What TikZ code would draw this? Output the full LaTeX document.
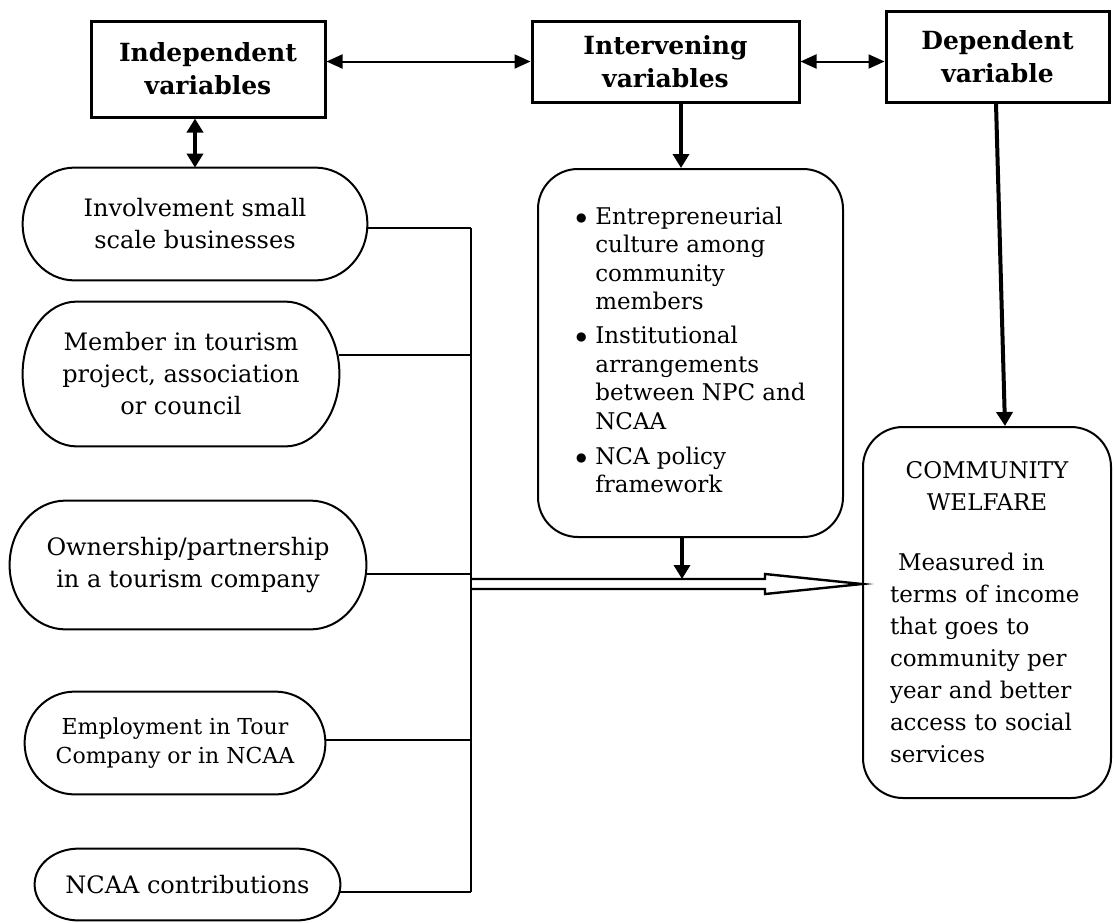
\documentclass[tikz,border=0pt]{standalone}
\usepackage{fontspec}
\setmainfont{DejaVu Serif}
\usetikzlibrary{arrows.meta,calc}
% outline of a pill shaped box round a node, #2 = half width of the curved ends
\newcommand\pill[2]{\draw[pillline] let \p1=(#1.north west),\p2=(#1.south east) in
  (\x1+#2,\y1) -- (\x2-#2,\y1) arc[start angle=90,end angle=-90,x radius=#2,y radius={(\y1-\y2)/2}]
  -- (\x1+#2,\y2) arc[start angle=270,end angle=90,x radius=#2,y radius={(\y1-\y2)/2}] -- cycle;}
\begin{document}
\begin{tikzpicture}[x=0.5pt,y=-0.5pt,
    headbox/.style={draw,line width=1.5pt,align=center,inner sep=0pt,font=\bfseries\fontsize{12.5}{16.5}\selectfont},
    pilltext/.style={align=center,inner sep=0pt,font=\fontsize{12}{16}\selectfont},
    roundbox/.style={draw,line width=1pt,rounded corners=20pt,inner sep=0pt},
    pillline/.style={line width=1pt},
    link/.style={line width=1.2pt},
    thinarrow/.style={line width=1pt,>={Triangle[length=8pt,width=7pt]},<->},
    thickarrow/.style={line width=2pt,>={Triangle[length=7pt,width=8pt]},->},
    hollow/.style={line width=1.2pt,line join=miter}]
    \useasboundingbox(0,0)rectangle(1114,922);
    % the three headings
    \node[headbox,minimum width=117pt,minimum height=48pt](indep)at(208,69){Independent\\variables};
    \node[headbox,minimum width=133.5pt,minimum height=40.5pt](interv)at(665.5,61.5){Intervening\\variables};
    \node[headbox,minimum width=111.5pt,minimum height=45.5pt](dep)at(997.5,56.5){Dependent\\variable};
    % independent variables
    \node[pilltext,minimum width=172pt,minimum height=56pt](inv1)at(195,224){Involvement small\\scale businesses};
    \node[pilltext,minimum width=158pt,minimum height=72pt](inv2)at(181,374){Member in tourism\\project, association\\or council};
    \node[pilltext,minimum width=178pt,minimum height=64pt](inv3)at(188,565){Ownership/partnership\\in a tourism company};
    \node[pilltext,minimum width=150pt,minimum height=51pt,font=\fontsize{11}{14.5}\selectfont](inv4)at(175,743){Employment in Tour\\Company or in NCAA};
    \node[pilltext,minimum width=152.5pt,minimum height=35.5pt](inv5)at(187.5,884.5){NCAA contributions};
    \pill{inv1}{26pt}
    \pill{inv2}{27pt}
    \pill{inv3}{28pt}
    \pill{inv4}{25pt}
    \pill{inv5}{22pt}
    % intervening variables
    \node[roundbox,minimum width=152.5pt,minimum height=184pt](inner)at(690.5,353){\fontsize{11.5}{14.25}\selectfont
      \begin{tabular}{@{}l@{\hspace{4pt}}l@{}}
        $\bullet$&Entrepreneurial\\&culture among\\&community\\&members\\[2.75pt]
        $\bullet$&Institutional\\&arrangements\\&between NPC and\\&NCAA\\[3.25pt]
        $\bullet$&NCA policy\\&framework
      \end{tabular}};
    % dependent variable
    \node[roundbox,minimum width=124pt,minimum height=185.5pt,text width=97pt,align=left,font=\fontsize{11.5}{16}\selectfont](welfare)at(987,612.5){%
      \makebox[\linewidth]{COMMUNITY}\\\makebox[\linewidth]{WELFARE}\\[14pt]
      \hspace*{4pt}Measured in\\terms of income\\that goes to\\community per\\year and better\\access to social\\services};
    % arrows between the headings
    \draw[thinarrow](interv.west)--(interv.west-|indep.east);
    \draw[thinarrow](interv.east)--(interv.east-|dep.west);
    \draw[thickarrow,<->](indep.south-|inv1.north)--(inv1.north);
    \coordinate(c1)at([xshift=7.75pt]interv.south);
    \draw[thickarrow](c1)--(c1|-inner.north);
    \draw[thickarrow]([xshift=-0.75pt]dep.south)--([xshift=9pt]welfare.north);
    % collecting line
    \coordinate(bus)at(471,0);
    \draw[link]([yshift=-2pt]inv1.east)--([yshift=-2pt]inv1.east-|bus);
    \draw[link]([yshift=9.5pt]inv2.east)--([yshift=9.5pt]inv2.east-|bus);
    \draw[link]([yshift=-4.5pt]inv3.east)--([yshift=-4.5pt]inv3.east-|bus);
    \draw[link]([yshift=1.5pt]inv4.east)--([yshift=1.5pt]inv4.east-|bus);
    \draw[link]([yshift=-3.75pt]inv5.east)--([yshift=-3.75pt]inv5.east-|bus);
    \draw[line width=1.4pt]([yshift=-2pt]inv1.east-|bus)--([yshift=-3.75pt]inv5.east-|bus);
    % hollow arrow to the welfare box
    \coordinate(tip)at([yshift=14.25pt]welfare.west);
    \coordinate(shafttop)at($(tip-|bus)+(0,-5)$);
    \draw[hollow](shafttop)--($(tip)+(-97,-5)$)--($(tip)+(-97,-10)$)--(tip)
      --($(tip)+(-97,10)$)--($(tip)+(-97,5)$)--($(tip-|bus)+(0,5)$);
    \coordinate(d1)at([xshift=-4.25pt]inner.south);
    \draw[thickarrow](d1)--(d1|-shafttop);
\end{tikzpicture}
\end{document}
